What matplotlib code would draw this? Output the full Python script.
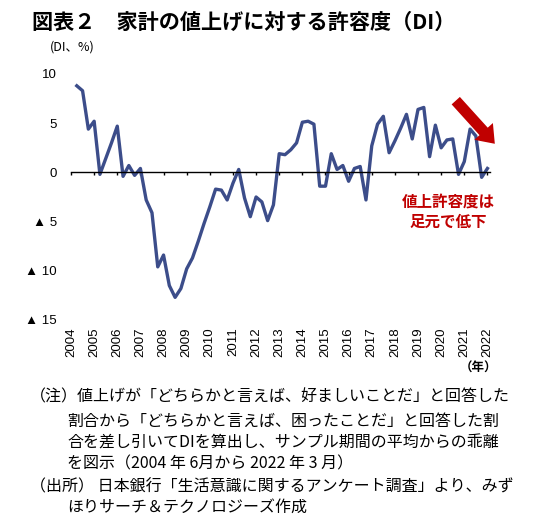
import matplotlib.pyplot as plt
import numpy as np

# 家計の値上げに対する許容度（DI）, 2004年6月～2022年3月 (四半期)
start_year = 2004.25
di_values = [8.8, 8.3, 4.4,
             5.2, -0.2, 1.4, 3.0,
             4.7, -0.4, 0.7, -0.3,
             0.4, -2.8, -4.1, -9.6,
             -8.4, -11.5, -12.7, -11.8,
             -9.8, -8.7, -7.0, -5.2,
             -3.5, -1.7, -1.8, -2.8,
             -1.1, 0.3, -2.6, -4.5,
             -2.5, -3.0, -4.9, -3.3,
             1.9, 1.8, 2.3, 3.0,
             5.1, 5.2, 4.9, -1.4,
             -1.4, 1.9, 0.3, 0.7,
             -0.9, 0.4, 0.6, -2.8,
             2.7, 4.9, 5.7, 2.0,
             3.2, 4.5, 5.9, 3.4,
             6.4, 6.6, 1.6, 4.8,
             2.5, 3.3, 3.4, -0.2,
             1.1, 4.4, 3.7, -0.5,
             0.4]
years = list(range(2004, 2023))
yticks = [-15, -10, -5, 0, 5, 10]
ytick_labels = ['▲ 15', '▲ 10', '▲ 5', '0', '5', '10']

x = start_year + 0.25 * np.arange(len(di_values))

W, H = 534, 516
jp = ['Noto Sans CJK JP', 'DejaVu Sans']
num = ['Liberation Sans', 'DejaVu Sans']
red = '#C00000'

fig = plt.figure(figsize=(W / 100, H / 100), dpi=100)
ax = fig.add_axes([71 / W, 1 - 320 / H, (499 - 71) / W, 246 / H])

ax.plot(x, di_values, color='#3C4D8A', lw=2.4, solid_joinstyle='round')
ax.set_xlim(2004, 2022.5)
ax.set_ylim(-15, 10)

for s in ['top', 'right', 'left']:
    ax.spines[s].set_visible(False)
ax.spines['bottom'].set_position(('data', 0))
ax.spines['bottom'].set_bounds(2004, 2022.1)
ax.spines['bottom'].set_linewidth(1.0)
ax.set_xticks(years)
ax.tick_params(axis='x', direction='out', length=2.5, width=1.0, labelbottom=False)
ax.set_yticks(yticks)
ax.set_yticklabels(ytick_labels, family=num, fontsize=9.5)
ax.tick_params(axis='y', length=0, pad=10)

for yr in years:
    ax.text(yr, -0.03, str(yr), transform=ax.get_xaxis_transform(), rotation=90,
            ha='center', va='top', family=num, fontsize=9.5)

# 矢印と注記
ax.annotate('', xy=(2022.4, 2.7), xytext=(2020.55, 7.5), annotation_clip=False,
            arrowprops=dict(arrowstyle='simple,head_length=1.2,head_width=1.8,tail_width=0.8',
                            mutation_scale=10, color=red, lw=0))
fig.text(448 / W, 1 - 202 / H, '値上許容度は', color=red, family=jp, fontsize=11.2,
         weight='bold', ha='center', va='center')
fig.text(448 / W, 1 - 222 / H, '足元で低下', color=red, family=jp, fontsize=11.2,
         weight='bold', ha='center', va='center')

fig.text(32 / W, 1 - 22 / H, '図表２　家計の値上げに対する許容度（DI）', family=jp,
         fontsize=15.2, weight='bold', ha='left', va='center')
fig.text(50 / W, 1 - 47 / H, '(DI、%)', family=jp, fontsize=9, ha='left', va='center')
fig.text(497 / W, 1 - 368 / H, '（年）', family=jp, fontsize=9, weight='bold',
         ha='right', va='center')

notes = [
    (30, 397, '（注）値上げが「どちらかと言えば、好ましいことだ」と回答した'),
    (67, 421, '割合から「どちらかと言えば、困ったことだ」と回答した割'),
    (67, 443, '合を差し引いてDIを算出し、サンプル期間の平均からの乖離'),
    (67, 464, 'を図示（2004 年 6月から 2022 年 3 月）'),
    (30, 487, '（出所） 日本銀行「生活意識に関するアンケート調査」より、みず'),
    (67, 507, 'ほりサーチ＆テクノロジーズ作成'),
]
for px, py, t in notes:
    fig.text(px / W, 1 - py / H, t, family=jp, fontsize=11.5, ha='left', va='center')

fig.savefig('out.png', dpi=100)
